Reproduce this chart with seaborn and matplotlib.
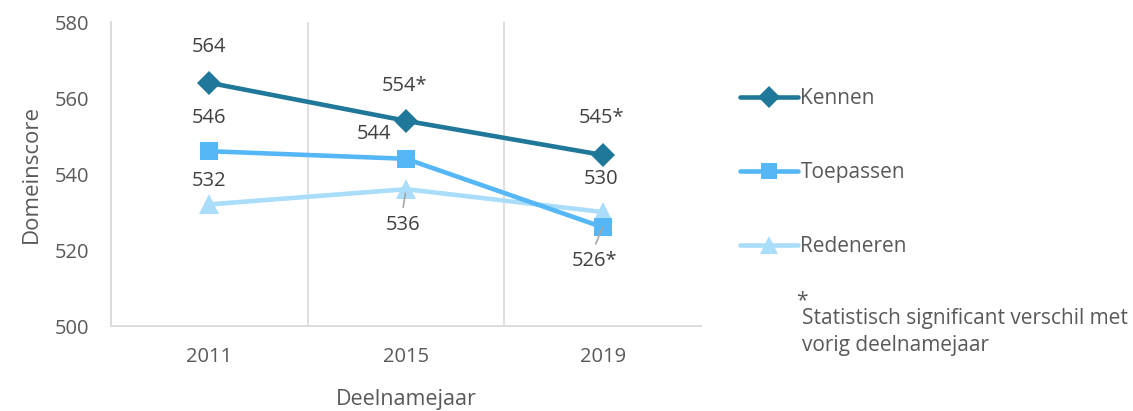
import matplotlib
matplotlib.use("Agg")
import matplotlib.pyplot as plt
import seaborn as sns
import pandas as pd
from matplotlib.lines import Line2D

years = ["2011", "2015", "2019"]
kennen = [564, 554, 545]
toepassen = [546, 544, 526]
redeneren = [532, 536, 530]
labels_kennen = ["564", "554*", "545*"]
labels_toepassen = ["546", "544", "526*"]
labels_redeneren = ["532", "536", "530"]
series_names = ["Kennen", "Toepassen", "Redeneren"]
colors = ["#1F7799", "#56B7F7", "#A9DDFA"]
markers = ["D", "s", "^"]
msizes = [12, 13, 15]

sns.set_theme(style="white")
plt.rcParams['font.family'] = ['Open Sans', 'DejaVu Sans']
gray = "#595959"

df = pd.DataFrame({
    "year": years * 3,
    "x": list(range(3)) * 3,
    "score": kennen + toepassen + redeneren,
    "serie": [s for s in series_names for _ in years],
})

fig = plt.figure(figsize=(11.33, 4.11), dpi=100)
ax = fig.add_axes([111/1133, 1-326/411, (701-111)/1133, (326-22)/411])

for name, col, mk, ms in list(zip(series_names, colors, markers, msizes))[::-1]:
    sub = df[df.serie == name]
    sns.lineplot(data=sub, x="x", y="score", ax=ax, color=col, marker=mk,
                 markersize=ms, markeredgewidth=0, linewidth=3.3, legend=False, zorder=3)

ax.set_xlim(-0.5, 2.5)
ax.set_ylim(500, 580)
ax.set_yticks(range(500, 581, 20))
ax.set_xticks(range(3))
ax.set_xticklabels(years)
ax.tick_params(axis="both", colors=gray, labelsize=14.5, length=0)
ax.tick_params(axis="y", pad=16)
ax.tick_params(axis="x", pad=15)
for s in ["top", "right"]:
    ax.spines[s].set_visible(False)
ax.spines["left"].set_color("#D9D9D9")
ax.spines["bottom"].set_color("#D9D9D9")
ax.spines["left"].set_linewidth(1.3)
ax.spines["bottom"].set_linewidth(1.3)
for xv in [0.5, 1.5]:
    ax.axvline(xv, color="#D9D9D9", linewidth=1.2, zorder=0)
ax.set_xlabel("Deelnamejaar", color=gray, fontsize=15.5, labelpad=16)
ax.set_ylabel("Domeinscore", color=gray, fontsize=16, labelpad=9)

fs = 14.5
def lab(x, y, t, dx=0, dy=0):
    ax.annotate(t, (x, y), xytext=(dx, dy), textcoords="offset points",
                ha="center", va="center", color="#404040", fontsize=fs)

# Kennen
lab(0, kennen[0], labels_kennen[0], 0, 26)
lab(1, kennen[1], labels_kennen[1], -1, 25)
lab(2, kennen[2], labels_kennen[2], -1, 26.5)
# Toepassen
lab(0, toepassen[0], labels_toepassen[0], 0, 24)
lab(1, toepassen[1], labels_toepassen[1], -23, 18)
lab(2, toepassen[2], labels_toepassen[2], -6, -24)
# Redeneren
lab(0, redeneren[0], labels_redeneren[0], 0, 16.5)
lab(1, redeneren[1], labels_redeneren[1], -2, -26)
lab(2, redeneren[2], labels_redeneren[2], -1, 24)
# leader lines
ax.annotate("", (1, redeneren[1]), xytext=(-2, -13), textcoords="offset points",
            arrowprops=dict(arrowstyle="-", color="#A6A6A6", lw=1.2, shrinkA=0, shrinkB=3))
ax.annotate("", (2, toepassen[2]), xytext=(-5, -12), textcoords="offset points",
            arrowprops=dict(arrowstyle="-", color="#A6A6A6", lw=1.2, shrinkA=0, shrinkB=0))

handles = [Line2D([0], [0], color=c, marker=m, markersize=ms * 0.9, markeredgewidth=0, linewidth=3.3)
           for c, m, ms in zip(colors, markers, msizes)]
fig.legend(handles, series_names, loc="upper left", bbox_to_anchor=(740/1133, 1-88/411),
           frameon=False, fontsize=15, labelcolor=gray, handlelength=2.8,
           handletextpad=0.1, labelspacing=2.55, borderaxespad=0, borderpad=0)

fig.text(802/1133, 1-301/411, "*", color=gray, fontsize=15, ha="center", va="center")
fig.text(802/1133, 1-332/411, "Statistisch significant verschil met\nvorig deelnamejaar",
         color=gray, fontsize=15, ha="left", va="center", linespacing=1.35)

fig.savefig("out.png", dpi=100)
